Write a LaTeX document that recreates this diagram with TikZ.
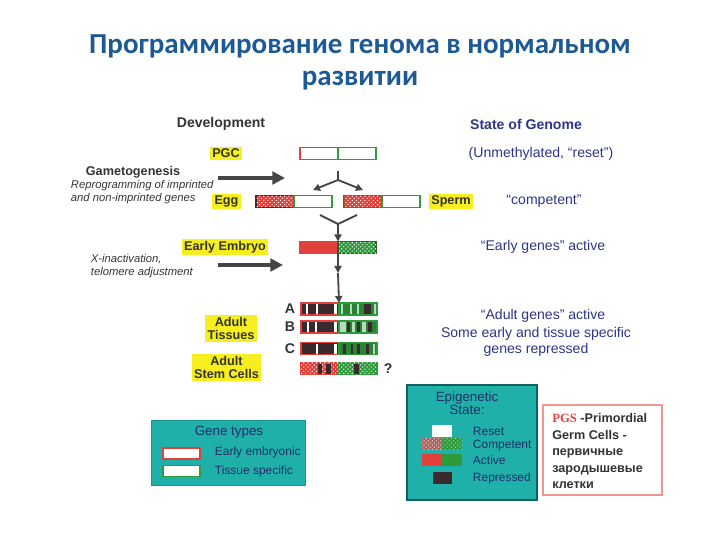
\documentclass[tikz,border=0pt]{standalone}
\usepackage{fontspec}
\setmainfont{Liberation Sans}
\newfontfamily\titlefont{Carlito}
\newfontfamily\seriffont{Liberation Serif}
\usetikzlibrary{arrows.meta,patterns,positioning}

\definecolor{titleblue}{HTML}{1D5A94}
\definecolor{genblue}{HTML}{2E3586}
\definecolor{navy}{HTML}{1E2F66}
\definecolor{labelgray}{HTML}{333333}
\definecolor{hilite}{HTML}{F6EE1E}
\definecolor{barred}{HTML}{E2403A}
\definecolor{bargreen}{HTML}{2F9A3C}
\definecolor{repress}{HTML}{3A2A2D}
\definecolor{tealbox}{HTML}{1FB0AA}
\definecolor{arrowgray}{HTML}{454545}

\tikzset{
  title/.style={text=titleblue, font=\titlefont\bfseries\fontsize{20.6}{22.8}\selectfont, align=center},
  head/.style={font=\bfseries\fontsize{10}{12}\selectfont},
  hl/.style={fill=hilite, inner sep=1.5pt, text=labelgray, align=center,
    font=\bfseries\fontsize{9}{9.6}\selectfont},
  note/.style={text=labelgray, align=left, font=\itshape\fontsize{8}{9}\selectfont},
  gen/.style={text=genblue, align=center, font=\fontsize{10}{11.4}\selectfont},
  leg/.style={text=navy, font=\fontsize{8.5}{10}\selectfont, anchor=west},
  half/.style={draw, line width=0.9pt, inner sep=0pt, outer sep=0pt,
    minimum width=0.95cm, minimum height=0.3cm, fill=white},
  redhalf/.style={half, draw=barred},
  greenhalf/.style={half, draw=bargreen},
  redhatch/.style={half, fill=barred, postaction={pattern=crosshatch dots, pattern color=white}},
  greenhatch/.style={half, fill=bargreen, postaction={pattern=crosshatch dots, pattern color=white}},
  swatch/.style={inner sep=0pt, outer sep=0pt, minimum width=0.5cm, minimum height=0.3cm},
  bigarrow/.style={line width=2.2pt, arrowgray, -{Triangle[width=9pt,length=9pt]}},
  smallarrow/.style={line width=1.3pt, arrowgray, -{Triangle[width=5pt,length=5pt]}},
  thinline/.style={line width=1.3pt, arrowgray},
}

\begin{document}
\begin{tikzpicture}[x=0.025cm,y=-0.025cm]
\useasboundingbox (0,0) rectangle (720,540);

% title
\node[title] (title) at (360,62) {Программирование генома в нормальном\\развитии};

% column headings
\node[head, text=labelgray] (dev) at (221,124) {Development};
\node[head, text=genblue] (state) at (526,124) {State of Genome};

% stages
\node[hl] (pgc) at (226,153.5) {PGC};
\node[hl] (egg) at (226.5,201.5) {Egg};
\node[hl] (sperm) at (451,201.5) {Sperm};
\node[hl] (embryo) at (225,247) {Early Embryo};
\node[hl] (tissues) at (231,328.5) {Adult\\Tissues};
\node[hl] (stemcells) at (226.5,367.5) {Adult\\Stem Cells};

% processes
\node[head, text=labelgray, font=\bfseries\fontsize{9}{10}\selectfont] (gamet) at (133,172) {Gametogenesis};
\node[note, anchor=west] (reprog) at (66,192) {Reprogramming of imprinted\\and non-imprinted genes};
\node[note, anchor=west] (xinact) at (86,266) {X-inactivation,\\telomere adjustment};
\coordinate (gA) at (218,178); \coordinate (gB) at (285,178);
\coordinate (eA) at (218,265); \coordinate (eB) at (283,265);
\draw[bigarrow] (gA) -- (gB);
\draw[bigarrow] (eA) -- (eB);

% genome states
\node[gen] (reset) at (541,154) {(Unmethylated, “reset”)};
\node[gen] (compet) at (544,201) {“competent”};
\node[gen] (early) at (543,247) {“Early genes” active};
\node[gen] (adult) at (543,316) {“Adult genes” active};
\node[gen] (repr) at (536,342) {Some early and tissue specific\\genes repressed};

% chromosome bars
\node[redhalf] (pgcL) at (319,153.5) {};
\node[greenhalf, right=0pt of pgcL] (pgcR) {};
\node[redhatch, draw=repress] (eggL) at (275,201.5) {};
\node[greenhalf, right=0pt of eggL] (eggR) {};
\node[redhatch, draw=orange!60!black] (spermL) at (363,201.5) {};
\node[greenhalf, right=0pt of spermL] (spermR) {};
\node[half, fill=barred, draw=barred] (embL) at (319,247.5) {};
\node[greenhatch, draw=repress!60!bargreen, right=0pt of embL] (embR) {};

\node[redhalf, fill=repress] (aL) at (320,309) {};
\node[greenhalf, fill=bargreen!85!black, right=0pt of aL] (aR) {};
\node[redhalf, fill=repress] (bL) at (320,327) {};
\node[greenhalf, fill=bargreen!85!black, right=0pt of bL] (bR) {};
\node[redhalf, fill=repress] (cL) at (320,348.5) {};
\node[greenhalf, fill=bargreen!85!black, right=0pt of cL] (cR) {};
\node[redhatch, draw=barred] (stemL) at (320,368.5) {};
\node[greenhatch, draw=bargreen, right=0pt of stemL] (stemR) {};

% bands
\foreach \xa/\xb in {306/307.5,316/317.5,334/337}
  \fill[white] (\xa,304) rectangle (\xb,314);
\foreach \xa/\xb in {341/343,350/351.5,357/358.5,374/376}
  \fill[bargreen!35!white] (\xa,304) rectangle (\xb,314);
\fill[repress] (364,304) rectangle (371,314);
\foreach \xa/\xb in {307/308.5,315/316.5,334/337}
  \fill[white] (\xa,322) rectangle (\xb,332);
\foreach \xa/\xb in {340/346,352/355,362/366}
  \fill[bargreen!35!white] (\xa,322) rectangle (\xb,332);
\foreach \xa/\xb in {347/350,357/360,368/372}
  \fill[repress] (\xa,322) rectangle (\xb,332);
\foreach \xa/\xb in {316/317.5,334/337}
  \fill[white] (\xa,343.5) rectangle (\xb,353.5);
\foreach \xa/\xb in {343/346,351/353,357/360,366/369}
  \fill[repress] (\xa,343.5) rectangle (\xb,353.5);
\fill[bargreen!35!white] (373,343.5) rectangle (375,353.5);
\foreach \xa/\xb in {318/322,326/331,354/359}
  \fill[repress] (\xa,363.5) rectangle (\xb,373.5);

\node[head, text=labelgray] (la) at (290,309) {A};
\node[head, text=labelgray] (lb) at (290,327) {B};
\node[head, text=labelgray] (lc) at (290,348.5) {C};
\node[head, text=labelgray, anchor=west] (qm) at (379,368.5) {?};

% arrows between stages
\coordinate (splitTop) at (338,171);
\coordinate (split) at (338,180);
\coordinate (toEgg) at (313,190);
\coordinate (toSperm) at (363,190);
\draw[thinline] (splitTop) -- (split);
\draw[smallarrow] (split) -- (toEgg);
\draw[smallarrow] (split) -- (toSperm);
\coordinate (joinL) at (320,215);
\coordinate (joinR) at (357,215);
\coordinate (join) at (338,224);
\draw[thinline] (joinL) -- (join) -- (joinR);
\draw[smallarrow] (join) -- (embL.north east);
\coordinate (mid) at (338,273);
\draw[smallarrow] (embL.south east) -- (mid);
\draw[smallarrow] (mid) -- (aL.north east);

% gene types legend
\node[fill=tealbox, draw=tealbox!85!black, minimum width=3.85cm, minimum height=1.625cm] (genebox) at (228,452.5) {};
\node[text=navy, font=\fontsize{9.5}{11}\selectfont] (genetitle) at (229,432) {Gene types};
\node[half, draw=barred, minimum width=0.925cm, minimum height=0.275cm] (swEarly) at (181.5,453.5) {};
\node[half, draw=bargreen, minimum width=0.925cm, minimum height=0.275cm] (swTissue) at (181.5,471) {};
\node[leg] (lEarly) at (210,452) {Early embryonic};
\node[leg] (lTissue) at (210,471) {Tissue specific};

% epigenetic state legend
\node[fill=tealbox, draw=tealbox!55!black, line width=0.8pt, minimum width=3.25cm, minimum height=2.875cm] (epibox) at (472,442.5) {};
\node[text=navy, align=center, font=\fontsize{9.5}{9.5}\selectfont] (epititle) at (467,403) {Epigenetic\\State:};
\node[swatch, fill=white] (swReset) at (442,431) {};
\node[swatch, fill=barred!45!gray, postaction={pattern=crosshatch dots, pattern color=white!80!gray}] (swCompR) at (432,444) {};
\node[swatch, fill=bargreen, postaction={pattern=crosshatch dots, pattern color=bargreen!45!white}, right=0pt of swCompR] (swCompG) {};
\node[swatch, fill=barred] (swActR) at (432,460) {};
\node[swatch, fill=bargreen, right=0pt of swActR] (swActG) {};
\node[swatch, fill=repress, minimum width=0.475cm] (swRep) at (442.5,478) {};
\node[leg] (lReset) at (468,431) {Reset};
\node[leg] (lComp) at (468,446) {Competent};
\node[leg] (lAct) at (468,460) {Active};
\node[leg] (lRep) at (468,478) {Repressed};

% PGS note
\node[fill=white, draw=barred!55!white, line width=0.8pt, minimum width=2.975cm, minimum height=2.25cm] (pgsbox) at (602.5,450) {};
\node[anchor=north west, align=left, text=labelgray, inner sep=0pt,
  font=\bfseries\fontsize{9}{11.8}\selectfont] (pgstext) at (552,413)
  {{\seriffont\color{barred}PGS} -Primordial\\Germ Cells -\\первичные\\зародышевые\\клетки};
\end{tikzpicture}
\end{document}
